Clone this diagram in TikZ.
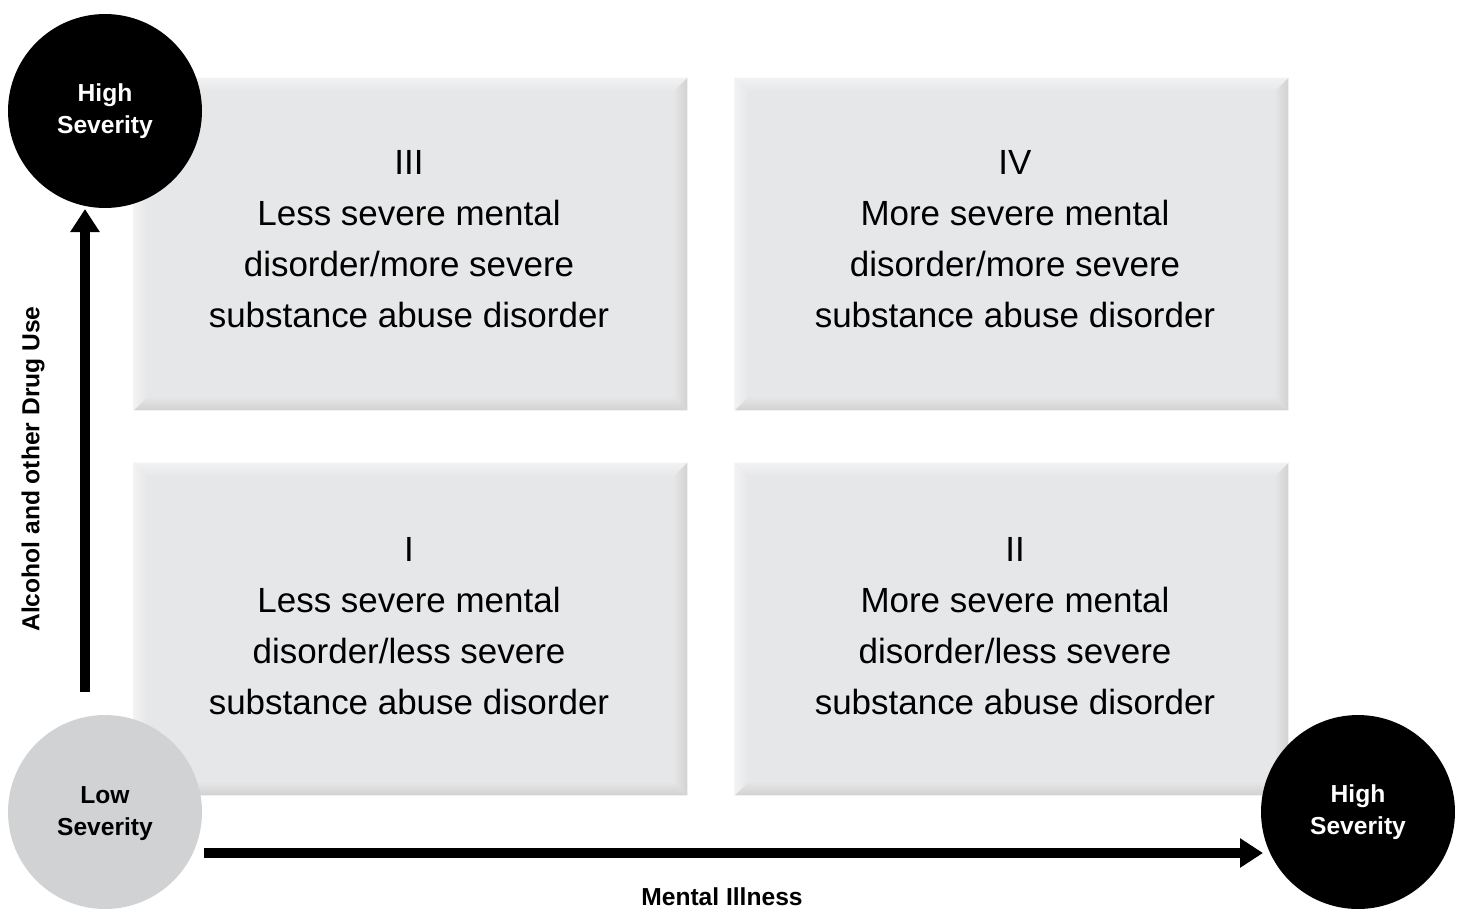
\documentclass[tikz,border=0pt]{standalone}
\usepackage{fontspec}
\setmainfont{Liberation Sans}
\usetikzlibrary{arrows.meta,calc}
\definecolor{boxfill}{HTML}{E6E7E8}
\definecolor{boxdark}{HTML}{D3D1D1}
\definecolor{boxlight}{HTML}{F2F2F3}
\definecolor{lowfill}{HTML}{D1D2D4}
\newcommand\bevelquad[1]{%
  \shade[top color=boxfill, bottom color=boxdark] ($(#1.south west)+(14,-14)$) -- ($(#1.south east)+(-14,-14)$) -- (#1.south east) -- (#1.south west) -- cycle;
  \shade[left color=boxfill, right color=boxdark] ($(#1.north east)+(-14,14)$) -- (#1.north east) -- (#1.south east) -- ($(#1.south east)+(-14,-14)$) -- cycle;
  \shade[top color=boxlight, bottom color=boxfill] (#1.north west) -- (#1.north east) -- ($(#1.north east)+(-14,14)$) -- ($(#1.north west)+(14,14)$) -- cycle;
  \shade[left color=boxlight, right color=boxfill] (#1.north west) -- ($(#1.north west)+(14,14)$) -- ($(#1.south west)+(14,-14)$) -- (#1.south west) -- cycle;}
\tikzset{
  quad/.style={minimum width=11.06cm, minimum height=6.64cm, inner sep=0pt, fill=boxfill},
  quadtext/.style={align=center, font=\fontsize{19.9}{29}\selectfont, inner sep=0pt},
  sevcircle/.style={circle, minimum size=3.88cm, inner sep=0pt, align=center, font=\bfseries\fontsize{14}{18.2}\selectfont},
  axis/.style={line width=0.2cm, -{Triangle[length=0.46cm,width=0.56cm]}},
  axislabel/.style={font=\bfseries\fontsize{14}{17}\selectfont, inner sep=0pt}
}
\begin{document}
\begin{tikzpicture}[x=0.02cm,y=-0.02cm]
\useasboundingbox (0,0) rectangle (1463,910);
% quadrants
\node[quad] (bIII) at (410.5,244) {};
\node[quad] (bIV) at (1011.5,244) {};
\node[quad] (bI) at (410.5,629) {};
\node[quad] (bII) at (1011.5,629) {};
\bevelquad{bIII}\bevelquad{bIV}\bevelquad{bI}\bevelquad{bII}
\node[quadtext] (tIII) at (409,239) {III\\Less severe mental\\disorder/more severe\\substance abuse disorder};
\node[quadtext] (tIV) at (1015,239) {IV\\More severe mental\\disorder/more severe\\substance abuse disorder};
\node[quadtext] (tI) at (409,626) {I\\Less severe mental\\disorder/less severe\\substance abuse disorder};
\node[quadtext] (tII) at (1015,626) {II\\More severe mental\\disorder/less severe\\substance abuse disorder};
% circles
\node[sevcircle, fill=black, text=white] (hiY) at (105,111) {High\\Severity};
\node[sevcircle, fill=lowfill, text=black] (low) at (105,812) {};
\node[align=center, inner sep=0pt, font=\bfseries\fontsize{14}{18.2}\selectfont] (lowtext) at (105,814) {Low\\Severity};
\node[sevcircle, fill=black, text=white] (hiX) at (1358,812) {High\\Severity};
% axes
\coordinate (vstart) at (85,692);
\coordinate (vend) at (85,209);
\coordinate (hstart) at (204,853);
\coordinate (hend) at (1263,853);
\draw[axis] (vstart) -- (vend);
\draw[axis] (hstart) -- (hend);
\node[axislabel, rotate=90] (ylab) at (33,469) {Alcohol and other Drug Use};
\node[axislabel] (xlab) at (722,897) {Mental Illness};
\end{tikzpicture}
\end{document}
